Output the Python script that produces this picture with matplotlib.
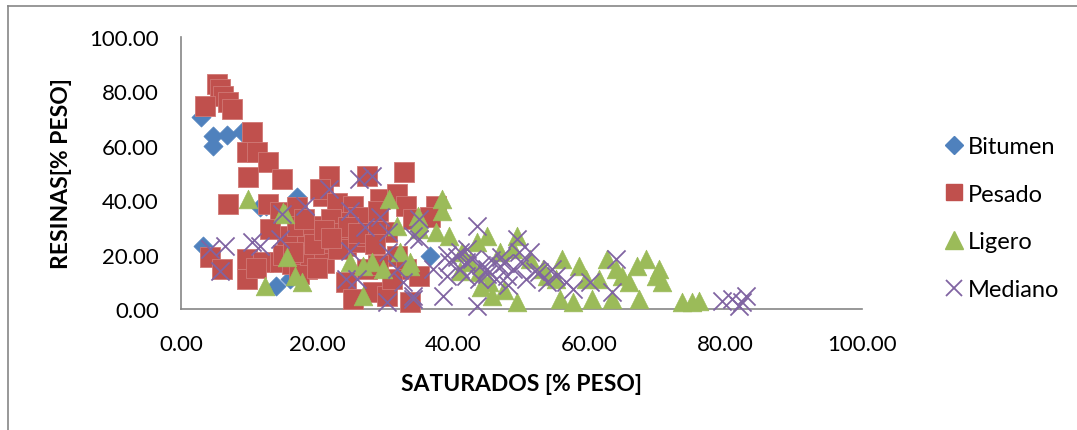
import matplotlib.pyplot as plt
from matplotlib.lines import Line2D

# Bitumen
bit_x = [3.0, 4.7, 6.7, 4.7, 9.0, 3.2, 11.6, 17.0, 14.0, 17.0, 19.4, 36.5, 12.5, 16.0]
bit_y = [70.6, 63.6, 64.0, 60.0, 65.0, 23.0, 37.5, 41.0, 8.5, 18.0, 29.0, 19.5, 38.0, 11.0]

# Pesado
pes_x = [5.3, 5.7, 6.2, 3.5, 6.9, 7.5, 10.4, 9.7, 11.1, 12.8, 9.8, 14.8,
         6.9, 12.8, 14.5, 17.0, 20.8, 21.8, 20.4, 22.9, 25.2, 27.3, 32.8, 29.2,
         31.7, 33.1, 34.0, 30.2, 4.3, 6.0, 9.7, 9.7, 12.0, 14.5, 18.5, 18.5,
         15.5, 13.0, 17.0, 19.4, 20.4, 21.4, 23.3, 24.3, 25.8, 27.3, 28.7, 24.3,
         25.2, 28.2, 30.2, 33.6, 27.3, 31.7, 33.1, 35.0, 37.5, 36.5, 16.3, 17.4,
         22.0, 26.0, 19.0, 23.0, 29.0, 11.0, 15.0, 21.0,
         19.5, 21.0, 23.0, 24.5, 26.0, 18.0, 22.0, 28.5, 16.5, 20.0, 29.0, 31.0]
pes_y = [82.7, 80.9, 78.3, 74.6, 76.1, 73.5, 65.1, 57.7, 57.7, 54.0, 48.5, 47.8,
         38.6, 38.6, 35.7, 37.5, 41.5, 49.0, 44.0, 39.0, 38.0, 49.0, 50.4, 40.4,
         42.3, 38.0, 33.0, 28.3, 19.0, 14.7, 18.4, 11.0, 17.3, 17.3, 23.2, 14.7,
         26.8, 29.4, 30.5, 30.5, 21.0, 25.7, 32.0, 23.2, 24.6, 26.8, 30.5, 10.0,
         3.7, 6.3, 4.8, 2.6, 14.7, 19.5, 14.7, 12.1, 38.0, 34.0, 16.5, 13.0,
         33.0, 34.0, 20.0, 28.0, 36.0, 15.0, 20.0, 17.0,
         24.0, 29.0, 22.0, 30.0, 28.0, 33.0, 26.0, 24.0, 21.0, 15.0, 16.0, 11.0]

# Ligero
lig_x = [9.8, 15.2, 15.5, 12.3, 16.7, 17.7, 24.8, 26.7, 28.0, 26.7, 30.6, 31.7,
         29.6, 32.1, 33.6, 34.8, 35.0, 38.3, 38.3, 35.0, 37.5, 33.6, 44.9, 49.3,
         48.7, 46.8, 41.3, 42.4, 43.8, 45.3, 45.7, 49.3, 51.2, 53.1, 56.0, 58.5,
         59.5, 55.1, 55.6, 57.5, 60.4, 62.5, 63.9, 64.8, 63.3, 65.8, 67.3, 66.9,
         68.3, 69.8, 70.2, 70.7, 73.6, 75.1, 76.0, 61.4, 39.4, 43.4, 53.7, 15.0,
         44.0, 47.5, 41.0]
lig_y = [40.4, 35.0, 19.0, 8.5, 12.0, 10.0, 17.3, 15.8, 17.3, 4.8, 40.4, 30.5,
         14.7, 21.0, 15.8, 34.2, 29.4, 40.4, 36.0, 32.0, 28.3, 17.3, 26.8, 26.8,
         22.0, 21.0, 21.0, 17.3, 13.6, 10.0, 4.8, 2.6, 18.4, 14.7, 18.4, 15.8,
         11.0, 11.0, 3.7, 2.6, 3.7, 18.4, 14.7, 12.1, 3.7, 10.0, 3.7, 15.8,
         18.4, 12.1, 14.7, 10.0, 2.6, 2.6, 3.0, 11.0, 26.8, 24.6, 12.1, 35.7,
         8.0, 7.0, 14.0]

# Mediano
med_x = [14.8, 18.2, 21.8, 26.2, 28.0, 24.8, 27.0, 29.2, 30.4, 35.0, 35.0, 4.3,
         6.5, 10.4, 11.6, 14.5, 5.7, 24.8, 24.3, 25.8, 30.4, 31.7, 32.6, 30.2,
         34.0, 43.5, 34.0, 49.3, 49.7, 51.2, 40.9, 41.9, 39.4, 42.8, 44.9, 46.8,
         47.8, 48.7, 46.3, 50.7, 54.5, 53.7, 56.6, 57.5, 60.0, 63.3, 63.9, 52.6,
         38.4, 43.4, 34.0, 79.5, 80.9, 82.4, 83.0, 82.0, 40.9, 41.9, 43.8, 37.0,
         45.5, 47.5, 39.0, 44.0,
         40.5, 42.0, 45.0, 47.0, 48.0, 39.0, 50.0, 52.0, 55.0]
med_y = [35.0, 38.0, 44.0, 47.8, 49.0, 36.0, 30.0, 33.8, 28.3, 33.0, 25.7, 22.0,
         23.2, 24.6, 23.2, 25.7, 14.0, 21.3, 11.0, 11.0, 21.0, 14.7, 10.0, 2.6,
         3.7, 30.5, 26.8, 25.7, 21.0, 21.0, 21.0, 17.3, 17.3, 18.4, 14.7, 15.8,
         12.1, 14.7, 11.0, 11.0, 14.7, 10.0, 10.0, 7.4, 10.0, 6.3, 18.4, 13.6,
         4.8, 1.1, 4.8, 3.0, 3.7, 2.6, 4.8, 1.1, 14.7, 12.1, 11.0, 14.7,
         18.0, 17.0, 20.0, 16.0,
         19.0, 22.0, 13.0, 19.0, 9.0, 12.0, 17.0, 14.0, 12.0]

x_ticks = [0, 20, 40, 60, 80, 100]
y_ticks = [0, 20, 40, 60, 80, 100]

plt.rcParams['font.family'] = ['Lato', 'DejaVu Sans']

fig = plt.figure(figsize=(10.77, 4.31), dpi=100)
ax = fig.add_axes([181 / 1077, 1 - 310 / 431, (862 - 181) / 1077, (310 - 38) / 431])

ax.scatter(bit_x, bit_y, marker='D', s=95, color='#4F81BD', edgecolors='#4F81BD',
           linewidths=0.5, clip_on=False, zorder=3, label='Bitumen')
ax.scatter(pes_x, pes_y, marker='s', s=220, color='#C0504D', edgecolors='#D07875',
           linewidths=0.6, clip_on=False, zorder=4, label='Pesado')
ax.scatter(lig_x, lig_y, marker='^', s=180, color='#9BBB59', edgecolors='#9BBB59',
           linewidths=0.5, clip_on=False, zorder=5, label='Ligero')
ax.scatter(med_x, med_y, marker='x', s=170, color='#8064A2', linewidths=1.3,
           clip_on=False, zorder=6, label='Mediano')

ax.set_xlim(0, 100)
ax.set_ylim(0, 100)
ax.set_xticks(x_ticks)
ax.set_yticks(y_ticks)
ax.set_xticklabels([f"{v:.2f}" for v in x_ticks])
ax.set_yticklabels([f"{v:.2f}" for v in y_ticks])
ax.tick_params(length=0, labelsize=16, colors='black')
ax.tick_params(axis='x', pad=18)
ax.tick_params(axis='y', pad=16)

for side in ['top', 'right']:
    ax.spines[side].set_visible(False)
for side in ['left', 'bottom']:
    ax.spines[side].set_color('#868686')
    ax.spines[side].set_linewidth(1.2)

ax.set_xlabel('SATURADOS [% PESO]', fontsize=16.5, fontweight='bold', labelpad=14)
ax.set_ylabel('RESINAS[% PESO]', fontsize=16.5, fontweight='bold', labelpad=12)

handles = [
    Line2D([], [], marker='D', color='#4F81BD', linestyle='None', markersize=9),
    Line2D([], [], marker='s', color='#C0504D', linestyle='None', markersize=12),
    Line2D([], [], marker='^', color='#9BBB59', linestyle='None', markersize=13),
    Line2D([], [], marker='x', color='#8064A2', linestyle='None', markersize=12, markeredgewidth=1.3),
]
fig.legend(handles, ['Bitumen', 'Pesado', 'Ligero', 'Mediano'], loc='center left',
           bbox_to_anchor=(922 / 1077, 1 - 219 / 431), frameon=False, fontsize=17,
           handlelength=0.9, handletextpad=0.15, labelspacing=1.13)

# chart border
fig.add_artist(Line2D([8 / 1077, 8 / 1077], [0, 1 - 7 / 431], transform=fig.transFigure,
                      color='#868686', linewidth=1.2))
fig.add_artist(Line2D([8 / 1077, 1], [1 - 7 / 431, 1 - 7 / 431], transform=fig.transFigure,
                      color='#868686', linewidth=1.2))

fig.savefig('out.png', dpi=100)
